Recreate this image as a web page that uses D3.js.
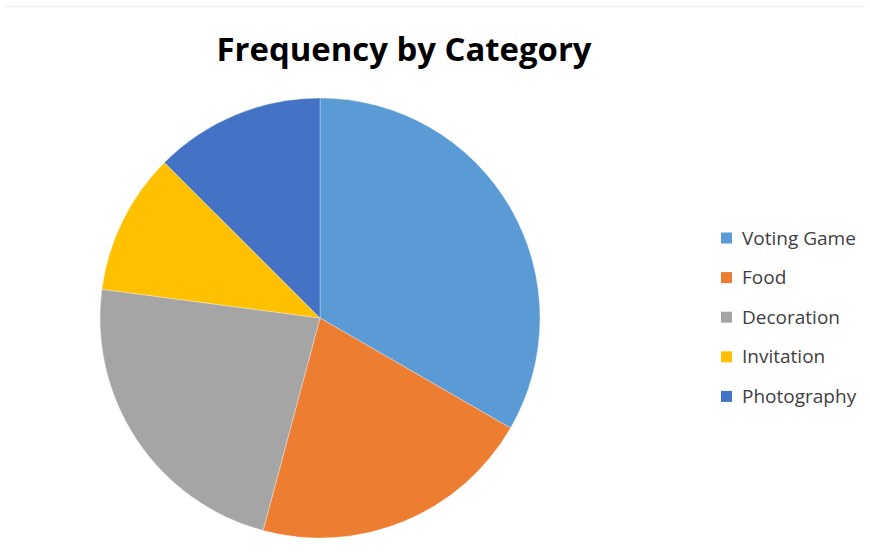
<!DOCTYPE html>
<html>
<head>
<meta charset="utf-8">
<script src="https://cdn.jsdelivr.net/npm/d3@7"></script>
<style>
  body { margin: 0; background: #fff; }
  svg { display: block; font-family: "Open Sans", "Liberation Sans", sans-serif; }
</style>
</head>
<body>
<div id="chart"></div>
<script>
// data
const categories = ['Voting Game', 'Food', 'Decoration', 'Invitation', 'Photography'];
const counts = [16, 10, 11, 5, 6];
const colors = ['#5B9BD5', '#ED7D31', '#A5A5A5', '#FFC000', '#4472C4'];

const width = 870;
const height = 556;
const centre = { x: 320, y: 318 };
const radius = 220;

const svg = d3.select('#chart')
  .append('svg')
  .attr('width', width)
  .attr('height', height);

// faint frame line at the top
svg.append('line')
  .attr('x1', 5).attr('x2', 865)
  .attr('y1', 6.5).attr('y2', 6.5)
  .attr('stroke', '#ececec')
  .attr('stroke-width', 1);

svg.append('text')
  .attr('x', 404)
  .attr('y', 61)
  .attr('text-anchor', 'middle')
  .style('font-size', '32px')
  .style('font-weight', 'bold')
  .attr('textLength', 375)
  .attr('lengthAdjust', 'spacingAndGlyphs')
  .text('Frequency by Category');

const data = categories.map((c, i) => ({ name: c, value: counts[i] }));
const color = d3.scaleOrdinal().domain(categories).range(colors);

const pie = d3.pie().value(d => d.value).sort(null);
const arc = d3.arc().innerRadius(0).outerRadius(radius);

svg.append('g')
  .attr('transform', `translate(${centre.x},${centre.y})`)
  .selectAll('path')
  .data(pie(data))
  .enter()
  .append('path')
  .attr('d', arc)
  .attr('fill', d => color(d.data.name))
  .attr('stroke', '#fff')
  .attr('stroke-opacity', 0.5)
  .attr('stroke-width', 0.6);

// legend
const legend = svg.append('g')
  .attr('transform', 'translate(721,238)');

const items = legend.selectAll('g')
  .data(categories)
  .enter()
  .append('g')
  .attr('transform', (d, i) => `translate(0,${i * 39.6})`);

items.append('rect')
  .attr('x', 0).attr('y', -5.5)
  .attr('width', 11).attr('height', 11)
  .attr('fill', d => color(d));

items.append('text')
  .attr('x', 21)
  .attr('y', 0)
  .attr('dy', '0.35em')
  .style('font-size', '19px')
  .style('fill', '#404040')
  .text(d => d);
</script>
</body>
</html>
